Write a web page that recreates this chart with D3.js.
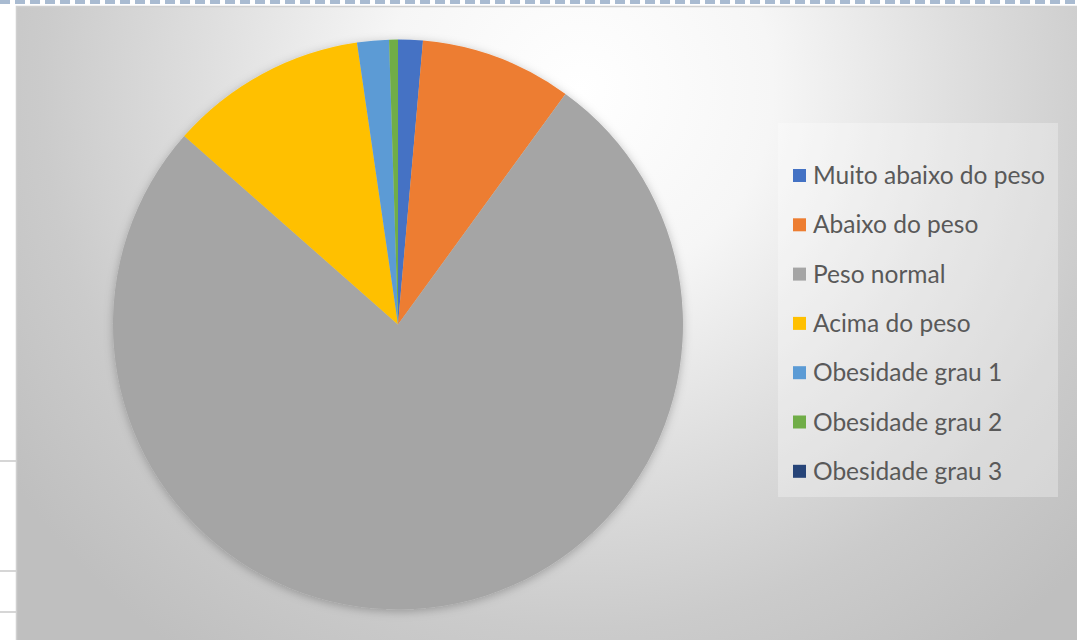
<!DOCTYPE html>
<html>
<head>
<meta charset="utf-8">
<script src="https://cdn.jsdelivr.net/npm/d3@7"></script>
<style>
  html, body { margin: 0; padding: 0; background: #ffffff; }
  svg { display: block; }
</style>
</head>
<body>
<svg id="chart" width="1077" height="640"></svg>
<script>
// Distribuição por faixa de IMC (%)
const categories = [
  "Muito abaixo do peso",
  "Abaixo do peso",
  "Peso normal",
  "Acima do peso",
  "Obesidade grau 1",
  "Obesidade grau 2",
  "Obesidade grau 3"
];
const values = [1.4, 8.6, 76.5, 11.2, 1.8, 0.5, 0];
const colors = ["#4472C4", "#ED7D31", "#A5A5A5", "#FFC000", "#5B9BD5", "#70AD47", "#264478"];

const W = 1077, H = 640;
const svg = d3.select("#chart");
const defs = svg.append("defs");

// Background gradient of the chart area
const bg = defs.append("radialGradient")
  .attr("id", "bgGrad")
  .attr("gradientUnits", "userSpaceOnUse")
  .attr("cx", 580).attr("cy", 90).attr("r", 690);
[[0, "#ffffff"], [0.28, "#f6f6f6"], [0.55, "#dedede"], [0.78, "#cbcbcb"], [1, "#bfbfbf"]]
  .forEach(([o, c]) => bg.append("stop").attr("offset", o).attr("stop-color", c));

// Soft shadow under the pie
const sh = defs.append("filter").attr("id", "pieShadow")
  .attr("x", "-10%").attr("y", "-10%").attr("width", "120%").attr("height", "120%");
sh.append("feDropShadow")
  .attr("dx", 0).attr("dy", 2).attr("stdDeviation", 5)
  .attr("flood-color", "#000").attr("flood-opacity", 0.25);

// Sheet grid fragments on the left
const gridRows = [461, 571, 612];
svg.selectAll("line.sheet").data(gridRows).enter().append("line")
  .attr("class", "sheet")
  .attr("x1", 0).attr("x2", 16)
  .attr("y1", d => d).attr("y2", d => d)
  .attr("stroke", "#d6d6d6").attr("stroke-width", 2);

// Selection frame (dashed) along the top
svg.append("line")
  .attr("x1", 0).attr("x2", W).attr("y1", 2).attr("y2", 2)
  .attr("stroke", "#a9bbd1").attr("stroke-width", 4)
  .attr("stroke-dasharray", "10,5");

// Chart area
svg.append("rect")
  .attr("x", 16.5).attr("y", 6.5).attr("width", W).attr("height", H)
  .attr("fill", "url(#bgGrad)")
  .attr("stroke", "#d0d0d0").attr("stroke-width", 1.5);

// Pie
const cx = 398, cy = 324.5, R = 285;
const pie = d3.pie().sort(null).value(d => d.v);
const arc = d3.arc().innerRadius(0).outerRadius(R);
const data = categories.map((c, i) => ({ c, v: values[i], col: colors[i] }));

const g = svg.append("g")
  .attr("transform", `translate(${cx},${cy})`)
  .attr("filter", "url(#pieShadow)");
g.selectAll("path").data(pie(data)).enter().append("path")
  .attr("d", arc)
  .attr("fill", d => d.data.col);

// Legend
const lg = svg.append("g");
lg.append("rect")
  .attr("x", 778).attr("y", 123).attr("width", 280).attr("height", 374)
  .attr("fill", "#ffffff").attr("fill-opacity", 0.3);

const fontFamily = "Lato, 'Open Sans', sans-serif";
// fit the font so the longest label spans the legend width
const probe = lg.append("text").attr("font-family", fontFamily).attr("font-size", 100)
  .text(categories[0]);
const fs = 100 * 232 / probe.node().getComputedTextLength();
probe.remove();

const y0 = 184, step = 49.3;
const items = lg.selectAll("g.item").data(data).enter().append("g")
  .attr("class", "item")
  .attr("transform", (d, i) => `translate(0,${y0 + i * step})`);
items.append("rect")
  .attr("x", 793).attr("y", -15).attr("width", 13).attr("height", 13)
  .attr("fill", d => d.col);
items.append("text")
  .attr("x", 813).attr("y", 0)
  .attr("font-family", fontFamily)
  .attr("font-size", fs)
  .attr("fill", "#595959")
  .text(d => d.c);
</script>
</body>
</html>
